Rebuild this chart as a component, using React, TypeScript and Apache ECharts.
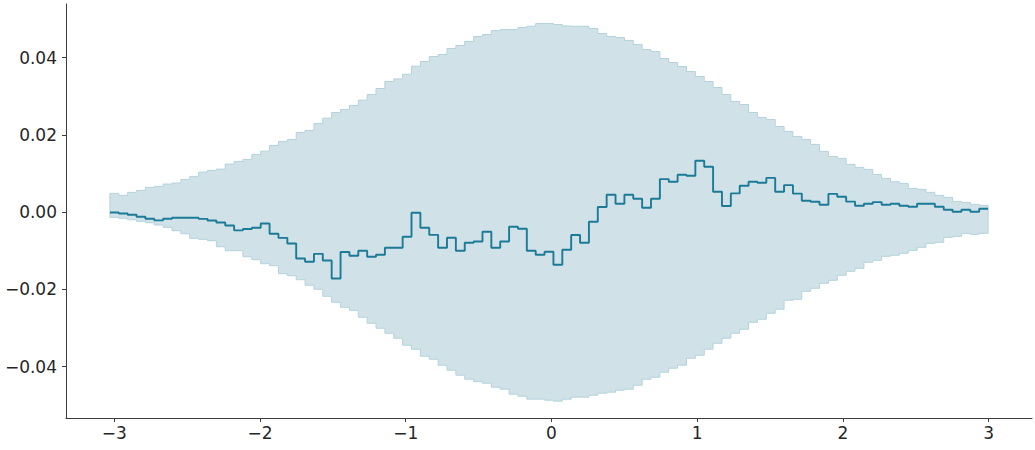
import React, { useEffect, useRef } from "react";
import * as echarts from "echarts";

// Step grid: 99 steps between these edges (bin edges of the stepped curves)
const STEP_START = -3.0296;
const STEP_END = 2.9966;

// Central stepped line values (one per step)
const meanValues = [
  -0.0001, -0.00036, -0.00067, -0.00119, -0.00171, -0.00212, -0.00171, -0.00145, -0.00145, -0.00145,
  -0.00173, -0.00217, -0.00269, -0.00347, -0.00471, -0.00437, -0.00404, -0.00295, -0.00559, -0.00665,
  -0.00812, -0.012, -0.01283, -0.01079, -0.01252, -0.01718, -0.01032, -0.0113, -0.00998, -0.01154,
  -0.01102, -0.00921, -0.00921, -0.00636, -0.00016, -0.00404, -0.00587, -0.00921, -0.00662, -0.00998,
  -0.00792, -0.0076, -0.00507, -0.00923, -0.0076, -0.00378, -0.00429, -0.00998, -0.01102, -0.01027,
  -0.01361, -0.00973, -0.00592, -0.00792, -0.00248, 0.00132, 0.0045, 0.00217, 0.0045, 0.00347,
  0.00114, 0.00347, 0.00856, 0.00786, 0.00967, 0.00942, 0.0133, 0.01174, 0.00528, 0.00158,
  0.00486, 0.00683, 0.00786, 0.0076, 0.00887, 0.00528, 0.00701, 0.00481, 0.00295, 0.00269,
  0.00191, 0.00473, 0.00398, 0.00274, 0.00166, 0.00217, 0.00261, 0.00191, 0.00217, 0.00166,
  0.0014, 0.00217, 0.00217, 0.0014, 0.00062, 0.0001, 0.00062, 0.0001, 0.00088,
];

// Upper edge of the shaded band
const upperValues = [
  0.00486, 0.00435, 0.00512, 0.00564, 0.00641, 0.00667, 0.00727, 0.00753, 0.00848, 0.00926,
  0.01037, 0.01081, 0.01115, 0.01244, 0.01314, 0.01366, 0.01495, 0.0158, 0.01728, 0.01831,
  0.01883, 0.02064, 0.02116, 0.02297, 0.02434, 0.02581, 0.02659, 0.02763, 0.029, 0.03047,
  0.03202, 0.03383, 0.03451, 0.03572, 0.03779, 0.03901, 0.0403, 0.04082, 0.04237, 0.04315,
  0.04418, 0.04547, 0.04599, 0.04703, 0.04728, 0.04728, 0.0478, 0.04814, 0.04884, 0.04884,
  0.04858, 0.04822, 0.04814, 0.04814, 0.04754, 0.04625, 0.04547, 0.04522, 0.04444, 0.0434,
  0.04211, 0.04159, 0.03978, 0.03875, 0.03771, 0.03642, 0.03513, 0.03383, 0.03228, 0.03047,
  0.02866, 0.02788, 0.02581, 0.02452, 0.024, 0.02219, 0.0209, 0.01961, 0.01883, 0.01754,
  0.01573, 0.01443, 0.01392, 0.01236, 0.01159, 0.01107, 0.00978, 0.00874, 0.00786, 0.00745,
  0.00616, 0.0059, 0.00512, 0.00435, 0.00383, 0.00279, 0.00253, 0.00202, 0.00176,
];

// Lower edge of the shaded band
const lowerValues = [
  -0.00135, -0.0016, -0.00197, -0.00238, -0.00274, -0.00334, -0.00393, -0.00481, -0.00559, -0.00678,
  -0.00704, -0.0074, -0.00895, -0.00998, -0.00998, -0.01154, -0.01231, -0.01335, -0.01386, -0.01593,
  -0.01645, -0.01749, -0.01893, -0.01997, -0.02178, -0.02333, -0.02463, -0.0254, -0.02721, -0.02876,
  -0.03006, -0.03135, -0.03264, -0.03445, -0.03549, -0.0373, -0.03808, -0.03963, -0.04092, -0.04222,
  -0.04325, -0.04387, -0.04428, -0.04532, -0.04583, -0.04713, -0.04765, -0.04842, -0.04842, -0.04868,
  -0.04894, -0.04842, -0.0479, -0.0479, -0.04739, -0.04687, -0.04661, -0.04609, -0.04584, -0.0448,
  -0.04325, -0.04273, -0.04144, -0.0404, -0.03963, -0.03782, -0.03704, -0.03549, -0.03394, -0.03264,
  -0.03135, -0.03032, -0.0285, -0.02773, -0.02618, -0.02514, -0.02281, -0.02256, -0.02049, -0.01971,
  -0.01842, -0.01764, -0.01635, -0.01531, -0.01454, -0.01298, -0.01247, -0.01143, -0.01117, -0.01066,
  -0.00988, -0.0091, -0.00807, -0.00781, -0.00652, -0.00626, -0.00548, -0.00574, -0.00548,
];

const xTickValues = [-3, -2, -1, 0, 1, 2, 3];
const xTickLabels = ["\u22123", "\u22122", "\u22121", "0", "1", "2", "3"];
const yTickValues = [-0.04, -0.02, 0, 0.02, 0.04];
const yTickLabels = ["\u22120.04", "\u22120.02", "0.00", "0.02", "0.04"];

const LINE_COLOR = "#1b7a96";
const BAND_FILL = "#d0e2e8";
const BAND_EDGE = "#b4d2dc";
const TEXT_COLOR = "#262626";
const SPINE_COLOR = "#3c3c3c";

function lookup(values: number[], labels: string[], v: number) {
  for (let i = 0; i < values.length; i++) {
    if (Math.abs(values[i] - v) < 1e-9) return labels[i];
  }
  return "";
}

export default function App() {
  const ref = useRef<HTMLDivElement>(null);

  useEffect(() => {
    if (!ref.current) return;
    const chart = echarts.init(ref.current, undefined, { renderer: "svg" });

    const n = meanValues.length;
    const edges: number[] = [];
    for (let i = 0; i <= n; i++) edges.push(STEP_START + ((STEP_END - STEP_START) * i) / n);
    // step "end": each value holds until the next edge; repeat last value at the final edge
    const meanData = edges.map((x, i) => [x, meanValues[Math.min(i, n - 1)]]);

    const bandRenderItem = (_params: any, api: any) => {
      const pts: number[][] = [];
      for (let i = 0; i < n; i++) {
        pts.push(api.coord([edges[i], upperValues[i]]));
        pts.push(api.coord([edges[i + 1], upperValues[i]]));
      }
      for (let i = n - 1; i >= 0; i--) {
        pts.push(api.coord([edges[i + 1], lowerValues[i]]));
        pts.push(api.coord([edges[i], lowerValues[i]]));
      }
      return {
        type: "polygon",
        shape: { points: pts },
        style: { fill: BAND_FILL, stroke: BAND_EDGE, lineWidth: 1 },
        silent: true,
      };
    };

    chart.setOption({
      animation: false,
      grid: { left: 66, right: 3, top: 4, bottom: 32, containLabel: false },
      xAxis: {
        type: "value",
        min: -3.331,
        max: 3.298,
        axisLine: { show: true, onZero: false, lineStyle: { color: SPINE_COLOR, width: 1 } },
        axisTick: {
          show: true,
          length: 4,
          customValues: xTickValues,
          lineStyle: { color: SPINE_COLOR, width: 1 },
        },
        axisLabel: {
          customValues: xTickValues,
          formatter: (v: number) => lookup(xTickValues, xTickLabels, v),
          color: TEXT_COLOR,
          fontSize: 17,
          fontFamily: "DejaVu Sans",
          margin: 6,
        },
        splitLine: { show: false },
      },
      yAxis: {
        type: "value",
        min: -0.0533,
        max: 0.0539,
        axisLine: { show: true, onZero: false, lineStyle: { color: SPINE_COLOR, width: 1 } },
        axisTick: {
          show: true,
          length: 4,
          customValues: yTickValues,
          lineStyle: { color: SPINE_COLOR, width: 1 },
        },
        axisLabel: {
          customValues: yTickValues,
          formatter: (v: number) => lookup(yTickValues, yTickLabels, v),
          color: TEXT_COLOR,
          fontSize: 17,
          fontFamily: "DejaVu Sans",
          margin: 9,
        },
        splitLine: { show: false },
      },
      series: [
        {
          name: "band",
          type: "custom",
          renderItem: bandRenderItem,
          data: [[edges[0], upperValues[0]]],
          silent: true,
          clip: true,
          z: 1,
        },
        {
          name: "mean",
          type: "line",
          step: "end",
          data: meanData,
          showSymbol: false,
          symbol: "none",
          silent: true,
          lineStyle: { color: LINE_COLOR, width: 1.9 },
          z: 3,
        },
      ],
    });

    return () => chart.dispose();
  }, []);

  return (
    <div
      ref={ref}
      style={{ position: "fixed", left: 0, top: 0, width: 1035, height: 450, background: "#fff" }}
    />
  );
}
